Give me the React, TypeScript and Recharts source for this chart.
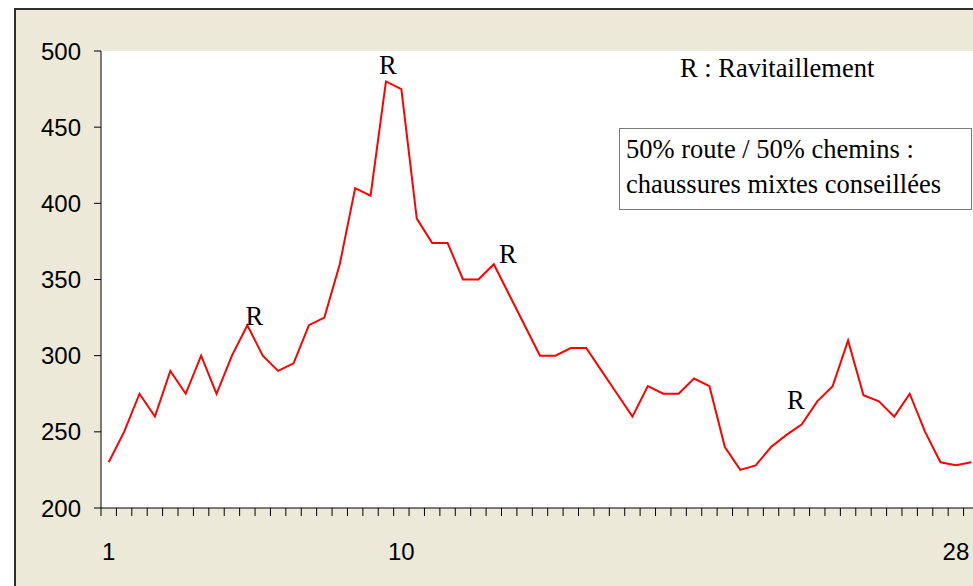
import { LineChart, Line, XAxis, YAxis, CartesianGrid, LabelList } from "recharts";

// altitude profile, one point every half km or so
const ALTITUDE = [
  230, 250, 275, 260, 290, 275, 300, 275, 300, 320, 300, 290, 295, 320, 325,
  360, 410, 405, 480, 475, 390, 374, 374, 350, 350, 360, 340, 320, 300, 300,
  305, 305, 290, 275, 260, 280, 275, 275, 285, 280, 240, 225, 228, 240, 248,
  255, 270, 280, 310, 274, 270, 260, 275, 250, 230, 228, 230,
];

// km labels shown under the axis (by point index)
const KM_LABELS: Record<number, string> = { 0: "1", 19: "10", 55: "28" };

// refuelling points
const RAVITO = [9, 18, 25, 45];

const Y_TICKS = [200, 250, 300, 350, 400, 450, 500];

const data = ALTITUDE.map((alt, i) => ({
  idx: i,
  alt,
  r: RAVITO.includes(i) ? "R" : undefined,
}));

const CHART_W = 1000;
const CHART_H = 586;
const MARGIN = { top: 51, right: 21, bottom: 18, left: 0 };
const Y_AXIS_W = 101;
const X_AXIS_H = 60;
const PLOT_W = CHART_W - MARGIN.left - MARGIN.right - Y_AXIS_W;
const BAND = PLOT_W / ALTITUDE.length;

const SANS = "'Liberation Sans', Arial, sans-serif";
const SERIF = "'Liberation Serif', 'Times New Roman', serif";
const NOTE_SIZE = 26.5;

// nudges for the "R" labels, as placed by hand in the original
const R_OFFSET: Record<number, [number, number]> = {
  9: [7, 0],
  18: [2, -7],
  25: [14, -1],
  45: [-6, -15],
};

const KmTick = (props: any) => {
  const { x, y, payload } = props;
  const i = payload?.index ?? props.index;
  const half = BAND / 2;
  const label = KM_LABELS[i];
  return (
    <g>
      <line x1={x - half} y1={y} x2={x - half} y2={y + 8} stroke="#000" strokeWidth={1} />
      {i === ALTITUDE.length - 1 && (
        <line x1={x + half} y1={y} x2={x + half} y2={y + 8} stroke="#000" strokeWidth={1} />
      )}
      {label && (
        <text x={x} y={y + 52} textAnchor="middle" fontFamily={SANS} fontSize={24} fill="#000">
          {label}
        </text>
      )}
    </g>
  );
};

const RLabel = (props: any) => {
  const { x, y, value, index } = props;
  if (!value) return null;
  const [dx, dy] = R_OFFSET[index] ?? [0, -8];
  return (
    <text x={x + dx} y={y + dy} textAnchor="middle" fontFamily={SERIF} fontSize={NOTE_SIZE} fill="#000">
      {value}
    </text>
  );
};

export default function App() {
  return (
    <div
      style={{
        position: "fixed",
        left: 0,
        top: 0,
        width: 973,
        height: 586,
        overflow: "hidden",
        background: "#fff",
      }}
    >
      {/* grey frame of the excel chart area */}
      <div
        style={{
          position: "absolute",
          left: 14,
          top: 8,
          width: 1000,
          height: 620,
          borderTop: "2px solid #2e2e2e",
          borderLeft: "2px solid #2e2e2e",
          background: "#ECE9D8",
        }}
      />
      <div style={{ position: "absolute", left: 0, top: 0 }}>
        <LineChart width={CHART_W} height={CHART_H} data={data} margin={MARGIN}>
          <CartesianGrid fill="#fff" stroke="none" vertical={false} />
          <XAxis
            dataKey="idx"
            type="category"
            scale="band"
            interval={0}
            height={X_AXIS_H}
            tickSize={0}
            tickMargin={0}
            tickLine={false}
            axisLine={{ stroke: "#000", strokeWidth: 1 }}
            tick={<KmTick />}
          />
          <YAxis
            domain={[200, 500]}
            ticks={Y_TICKS}
            width={Y_AXIS_W}
            tickSize={7}
            tickMargin={13}
            axisLine={{ stroke: "#000", strokeWidth: 1 }}
            tickLine={{ stroke: "#000" }}
            tick={{ fill: "#000", fontSize: 24, fontFamily: SANS }}
            allowDataOverflow
          />
          <Line
            type="linear"
            dataKey="alt"
            stroke="#ff0000"
            strokeWidth={2}
            dot={false}
            activeDot={false}
            isAnimationActive={false}
          >
            <LabelList dataKey="r" content={<RLabel />} />
          </Line>
        </LineChart>
      </div>
      {/* legend note and text box */}
      <svg
        width={973}
        height={586}
        style={{ position: "absolute", left: 0, top: 0, pointerEvents: "none" }}
      >
        <text x={680} y={77} fontFamily={SERIF} fontSize={NOTE_SIZE} fill="#000">
          R : Ravitaillement
        </text>
        <rect x={619.5} y={128.5} width={352} height={81} fill="#fff" stroke="#7a7a7a" strokeWidth={1} />
        <text x={626} y={158} fontFamily={SERIF} fontSize={NOTE_SIZE} fill="#000">
          50% route / 50% chemins :
        </text>
        <text x={626} y={193} fontFamily={SERIF} fontSize={NOTE_SIZE} fill="#000">
          chaussures mixtes conseillées
        </text>
      </svg>
    </div>
  );
}
